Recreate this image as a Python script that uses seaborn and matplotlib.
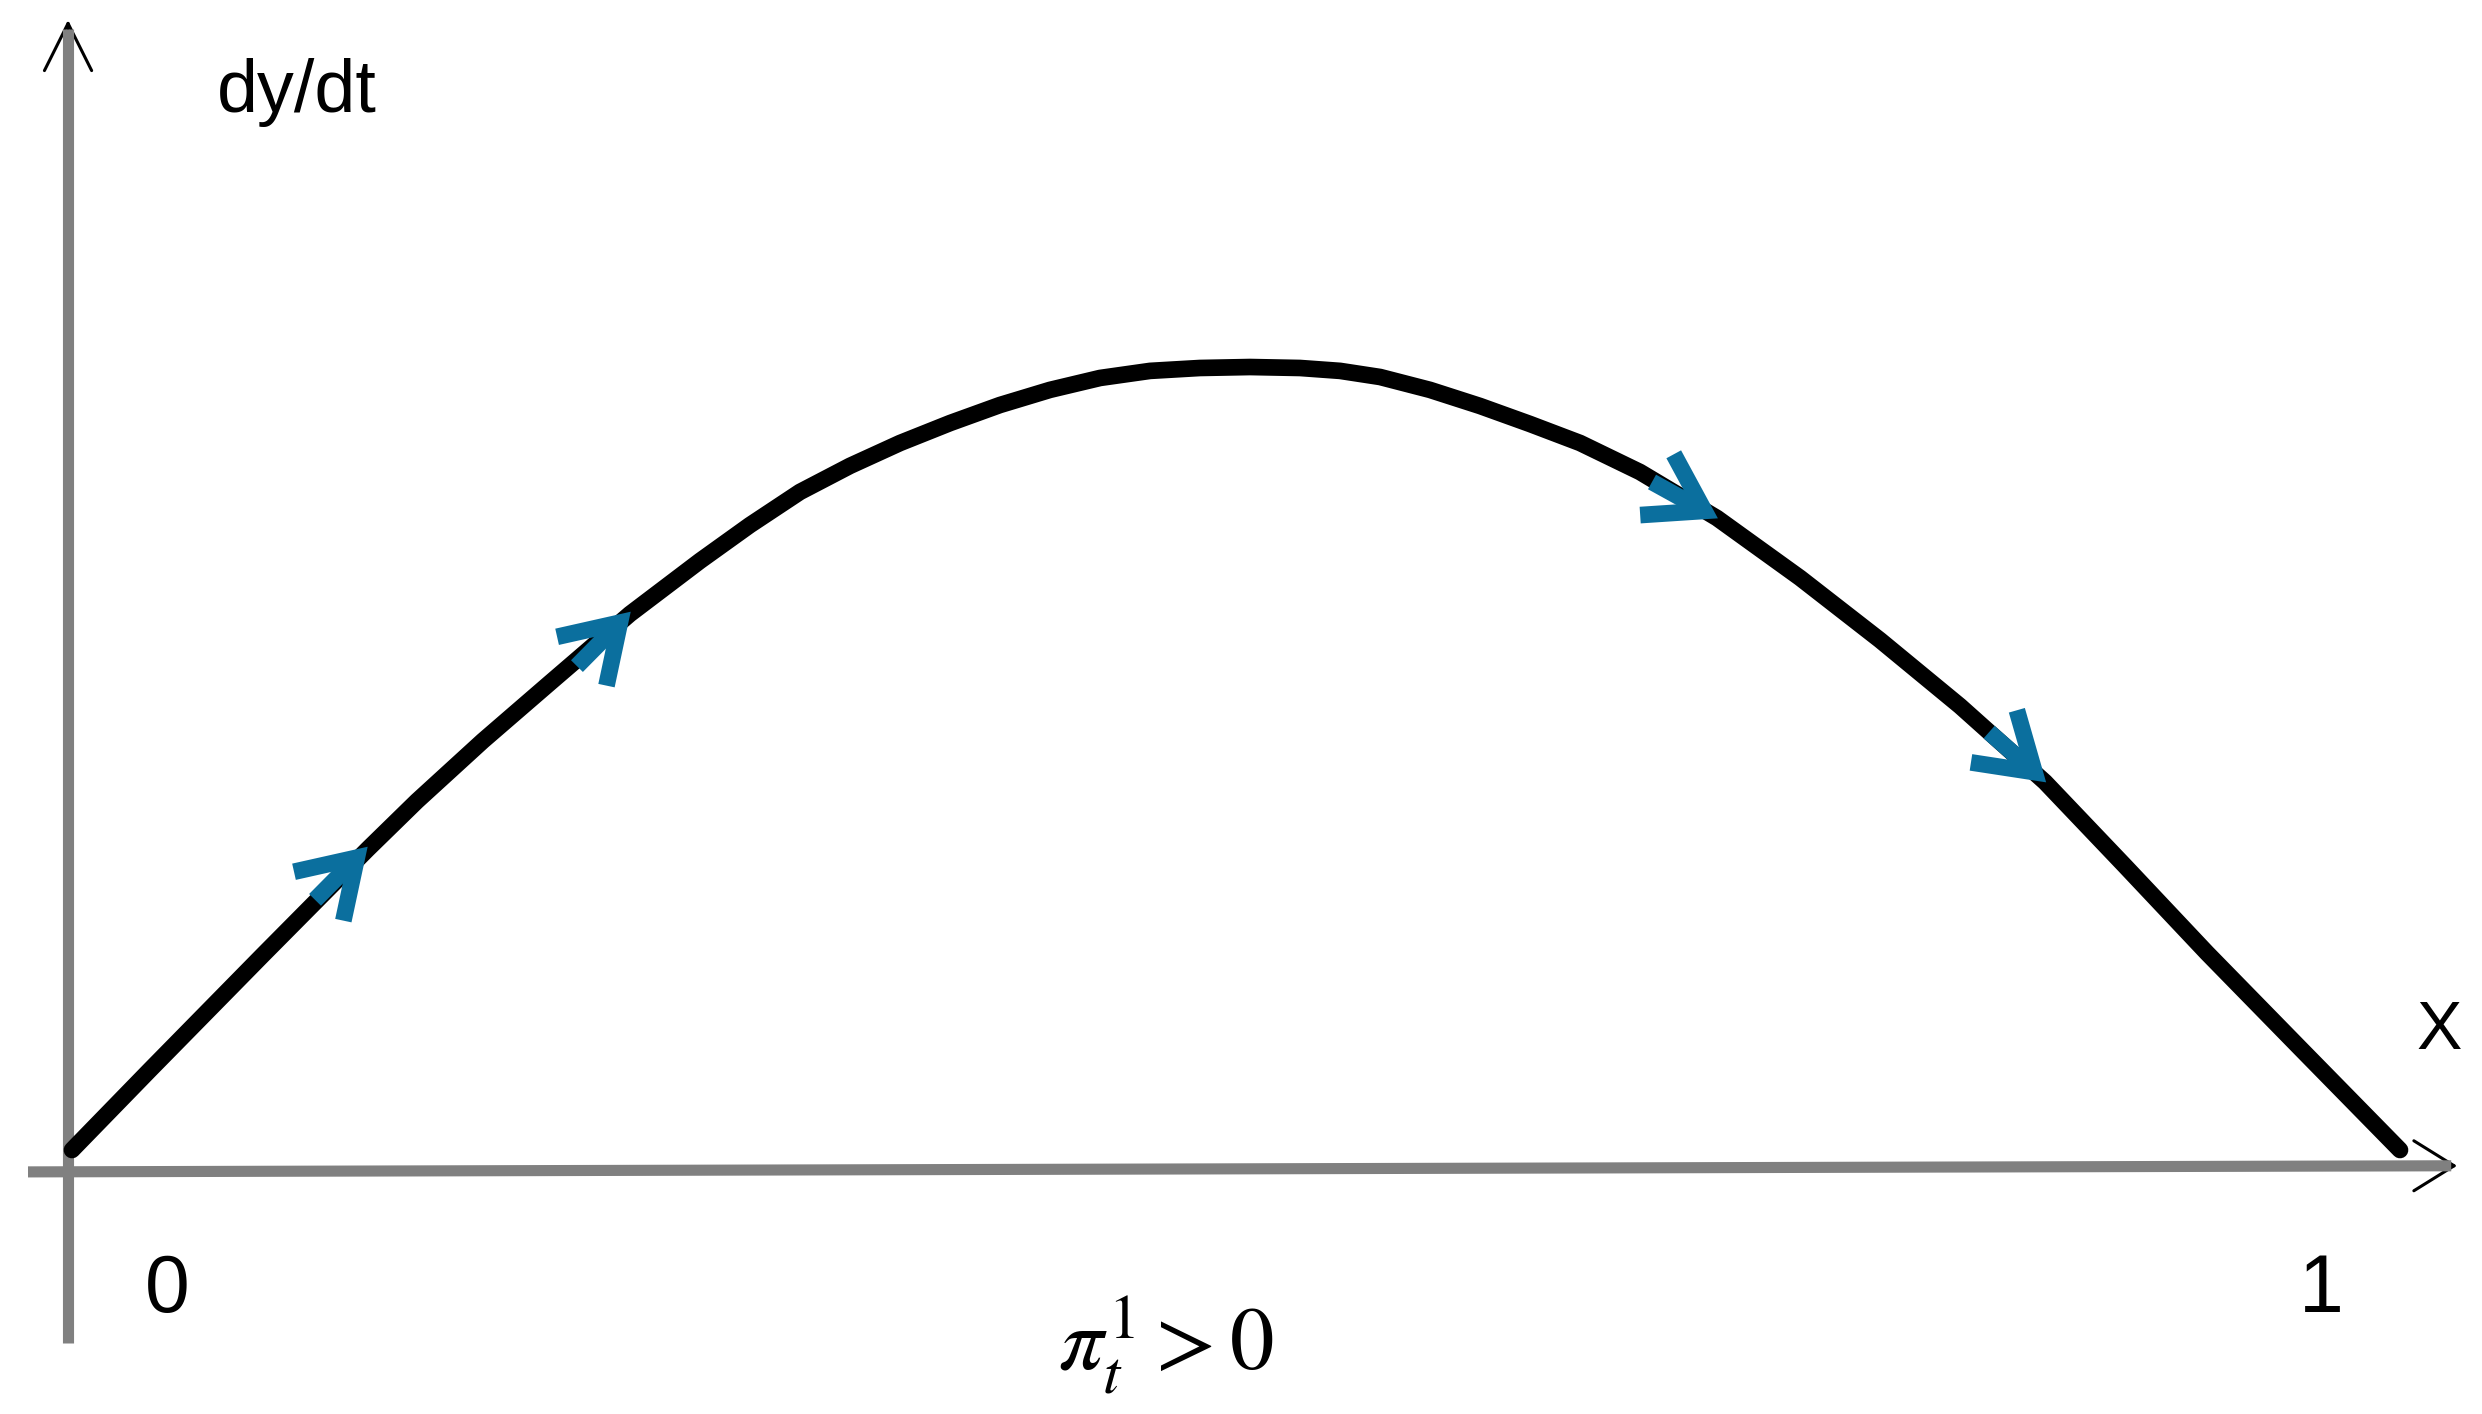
import seaborn as sns
import matplotlib.pyplot as plt

# curve dy/dt against x (peak scaled to 0.25)
curve_x = [0.0, 0.0335, 0.0820, 0.1271, 0.1482, 0.1765, 0.2053, 0.2397, 0.2698,
           0.2912, 0.3127, 0.3342, 0.3557, 0.3772, 0.3986, 0.4201, 0.4416, 0.4631,
           0.4845, 0.5060, 0.5275, 0.5447, 0.5619, 0.5833, 0.6048, 0.6263, 0.6478,
           0.6735, 0.7066, 0.7423, 0.7766, 0.8110, 0.8475, 0.8819, 0.9171, 0.9570,
           1.0]
curve_y = [0.0068, 0.0317, 0.0674, 0.1003, 0.1152, 0.1339, 0.1519, 0.1733, 0.1898,
           0.2009, 0.2112, 0.2193, 0.2264, 0.2326, 0.2382, 0.2429, 0.2466, 0.2488,
           0.2497, 0.2500, 0.2497, 0.2488, 0.2469, 0.2429, 0.2379, 0.2323, 0.2264,
           0.2174, 0.2031, 0.1845, 0.1652, 0.1447, 0.1211, 0.0950, 0.0680, 0.0385,
           0.0068]

# blue direction arrows on the curve (tail -> tip)
arrow_tail_x = [0.1044, 0.2169, 0.6787, 0.8235]
arrow_tail_y = [0.0845, 0.1571, 0.2143, 0.1366]
arrow_tip_x = [0.127, 0.240, 0.707, 0.848]
arrow_tip_y = [0.101, 0.174, 0.203, 0.121]

tick_labels = ['0', '1']
tick_pos = [0.041, 0.966]

sns.set_style('white')
plt.rcParams['font.family'] = ['Liberation Sans', 'DejaVu Sans']
plt.rcParams['mathtext.fontset'] = 'stix'
plt.rcParams['text.color'] = 'black'

fig = plt.figure(figsize=(24.82, 14.14), dpi=100)
ax = fig.add_axes([0, 0, 1, 1])
ax.set_xlim(-72 / 2328, 2410 / 2328)
ax.set_ylim(-0.0752, 0.3640)
ax.axis('off')

gray = '#808080'
blue = '#0b6f9e'

# axes with thin black arrow heads
ax.annotate('', xy=(-0.0017, 0.3578), xytext=(-0.0017, 0.345), zorder=1,
            arrowprops=dict(arrowstyle='->,head_length=3.4,head_width=1.7',
                            color='black', lw=2.2, shrinkA=0, shrinkB=0,
                            mutation_scale=10))
ax.plot([-0.0017, -0.0017], [-0.0531, 0.355], color=gray, lw=8,
        solid_capstyle='butt', zorder=2)
ax.annotate('', xy=(1.0245, 0.0019), xytext=(1.015, 0.0019), zorder=1,
            arrowprops=dict(arrowstyle='->,head_length=2.9,head_width=1.8',
                            color='black', lw=2.2, shrinkA=0, shrinkB=0,
                            mutation_scale=10))
ax.plot([-0.0189, 1.022], [0.0, 0.0019], color=gray, lw=8,
        solid_capstyle='butt', zorder=2)

# main curve
sns.lineplot(x=curve_x, y=curve_y, color='black', lw=12, ax=ax, zorder=3)

for tx, ty, hx, hy in zip(arrow_tail_x, arrow_tail_y, arrow_tip_x, arrow_tip_y):
    ax.annotate('', xy=(hx, hy), xytext=(tx, ty), zorder=4,
                arrowprops=dict(arrowstyle='->,head_length=3.9,head_width=2.5',
                                color=blue, lw=12, shrinkA=0, shrinkB=0,
                                mutation_scale=10, capstyle='butt',
                                joinstyle='miter'))

# labels
ax.text(0.0623, 0.3292, 'dy/dt', fontsize=53, ha='left', va='baseline')
ax.text(1.0168, 0.0382, 'X', fontsize=49, ha='center', va='baseline')
for pos, lab in zip(tick_pos, tick_labels):
    ax.text(pos, -0.0435, lab, fontsize=58, ha='center', va='baseline')
ax.text(0.4235, -0.0615, r'$\pi_t^1 > 0$', fontsize=64, ha='left', va='baseline')

fig.savefig('out.png', dpi=100)
